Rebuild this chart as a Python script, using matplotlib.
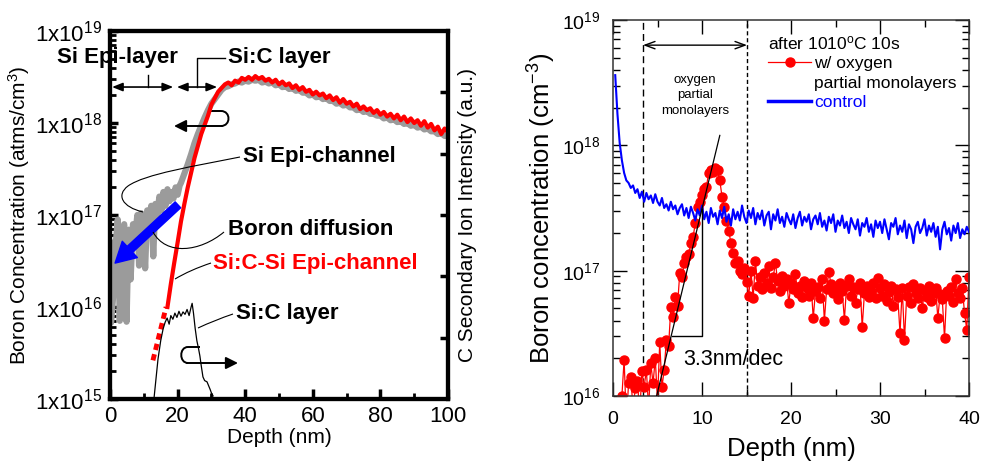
import numpy as np
import matplotlib.pyplot as plt
from matplotlib.path import Path
from matplotlib.patches import PathPatch
from matplotlib.lines import Line2D
from matplotlib.ticker import MultipleLocator, LogLocator, NullFormatter

plt.rcParams['font.family'] = ['Liberation Sans', 'DejaVu Sans']
plt.rcParams['mathtext.fontset'] = 'custom'
plt.rcParams['mathtext.rm'] = 'Liberation Sans'
plt.rcParams['mathtext.it'] = 'Liberation Sans:italic'

# ---------------- left panel data (log10 of concentration) ----------------
# Si Epi-channel (gray, thick) : noisy low part
gray_depth_low = [0.0, 0.3, 0.9, 1.5, 2.3, 2.9, 3.5, 4.2, 4.9, 5.5, 6.1, 6.8,
                  7.5, 8.1, 8.6, 9.2, 9.8, 10.4, 11.0, 11.6, 12.2, 12.8, 13.4,
                  14.0, 14.6, 15.2, 15.8, 16.4, 17.0, 17.6, 18.2, 18.8, 19.4,
                  20.0, 20.6]
gray_log_low = [16.70, 15.83, 16.10, 16.60, 16.95, 15.85, 16.80, 16.90, 15.84,
                16.84, 16.30, 16.90, 16.80, 17.00, 16.45, 17.02, 16.85, 16.42,
                17.05, 16.95, 17.10, 16.55, 17.12, 17.00, 17.20, 17.05, 17.25,
                17.10, 17.28, 17.15, 17.25, 17.18, 17.30, 17.22, 17.32]
# gray from 21 nm to 100 nm, 1 nm steps
gray_log_high = [17.35, 17.45, 17.55, 17.66, 17.78, 17.88, 17.97, 18.06, 18.14, 18.21,
                 18.26, 18.31, 18.36, 18.39, 18.40, 18.42, 18.43, 18.45, 18.44, 18.46,
                 18.45, 18.47, 18.46, 18.47, 18.44, 18.45, 18.43, 18.44, 18.41, 18.42,
                 18.39, 18.40, 18.37, 18.38, 18.35, 18.36, 18.33, 18.33, 18.30, 18.31,
                 18.28, 18.29, 18.26, 18.27, 18.24, 18.24, 18.21, 18.22, 18.19, 18.20,
                 18.17, 18.17, 18.14, 18.15, 18.12, 18.13, 18.10, 18.10, 18.08, 18.08,
                 18.05, 18.06, 18.03, 18.04, 18.01, 18.02, 17.99, 18.00, 17.97, 17.98,
                 17.95, 17.96, 17.93, 17.94, 17.91, 17.91, 17.88, 17.89, 17.86, 17.86]

# Si:C-Si Epi-channel (red), 17 nm to 100 nm, 1 nm steps
red_log = [16.00, 16.25, 16.48, 16.70, 16.93, 17.12, 17.30, 17.46, 17.62, 17.75,
           17.88, 17.98, 18.08, 18.20, 18.27, 18.34, 18.38, 18.42, 18.44, 18.41,
           18.46, 18.44, 18.49, 18.47, 18.50, 18.47, 18.51, 18.48, 18.50, 18.46,
           18.48, 18.44, 18.47, 18.42, 18.45, 18.41, 18.43, 18.38, 18.41, 18.36,
           18.39, 18.34, 18.36, 18.31, 18.34, 18.30, 18.32, 18.27, 18.30, 18.25,
           18.28, 18.22, 18.26, 18.21, 18.23, 18.18, 18.21, 18.15, 18.18, 18.14,
           18.16, 18.11, 18.14, 18.09, 18.12, 18.07, 18.10, 18.05, 18.09, 18.03,
           18.07, 18.01, 18.05, 18.00, 18.03, 17.97, 18.02, 17.95, 17.99, 17.92,
           17.96, 17.88, 17.94, 17.90]
# extrapolated (dotted) part of red curve
red_dot_depth = [12.7, 16.6]
red_dot_log = [15.42, 16.0]

# Carbon secondary ion intensity (right axis, a.u.)
c_depth = [13.0, 14.2, 15.0, 15.7, 16.3, 16.9, 17.5, 18.0, 18.6, 19.2, 19.8,
           20.4, 21.0, 21.6, 22.2, 22.8, 23.4, 24.0, 24.3, 24.7, 25.2, 25.7,
           26.2, 26.6, 27.0, 27.5, 28.0, 28.7, 29.3, 29.6, 30.0, 30.5]
c_int = [0.0, 0.65, 0.95, 1.14, 1.25, 1.32, 1.22, 1.36, 1.30, 1.40, 1.33,
         1.43, 1.35, 1.42, 1.38, 1.46, 1.36, 1.50, 1.56, 1.40, 1.15, 0.95,
         0.82, 0.70, 0.54, 0.36, 0.30, 0.28, 0.20, 0.16, 0.10, 0.05]

# ---------------- right panel data (log10 of concentration) ----------------
# control (blue), 0.25 nm to 40 nm, 0.25 nm steps
blue_log = [18.56, 18.25, 18.02, 17.88, 17.78, 17.72, 17.70, 17.66,
            17.68, 17.62, 17.65, 17.58, 17.63, 17.55, 17.62, 17.57,
            17.60, 17.54, 17.61, 17.55, 17.52, 17.58, 17.50, 17.53,
            17.48, 17.55, 17.49, 17.52, 17.45, 17.50, 17.53, 17.44,
            17.50, 17.42, 17.51, 17.46, 17.40, 17.49, 17.44, 17.52,
            17.41, 17.47, 17.38, 17.50, 17.43, 17.46, 17.37, 17.48,
            17.42, 17.51, 17.39, 17.45, 17.36, 17.49, 17.41, 17.47,
            17.40, 17.52, 17.43, 17.38, 17.48, 17.42, 17.50, 17.37,
            17.46, 17.41, 17.48, 17.36, 17.44, 17.47, 17.33, 17.45,
            17.40, 17.49, 17.38, 17.43, 17.35, 17.46, 17.41, 17.37,
            17.45, 17.34, 17.42, 17.47, 17.36, 17.43, 17.39, 17.45,
            17.33, 17.41, 17.44, 17.37, 17.46, 17.35, 17.40, 17.32,
            17.43, 17.38, 17.45, 17.31, 17.40, 17.36, 17.44, 17.34,
            17.39, 17.30, 17.42, 17.37, 17.33, 17.41, 17.28, 17.38,
            17.35, 17.42, 17.31, 17.37, 17.27, 17.40, 17.34, 17.39,
            17.30, 17.41, 17.33, 17.25, 17.38, 17.35, 17.42, 17.29,
            17.36, 17.31, 17.40, 17.26, 17.37, 17.33, 17.22, 17.35,
            17.39, 17.30, 17.34, 17.41, 17.28, 17.36, 17.31, 17.38,
            17.27, 17.35, 17.17, 17.33, 17.39, 17.29, 17.34, 17.24,
            17.36, 17.30, 17.38, 17.26, 17.33, 17.29, 17.35, 17.31]

# w/ oxygen partial monolayers (red dots), 1 nm to 40 nm, 0.25 nm steps
ox_log = [16.00, 16.29, 15.80, 16.10, 16.15, 15.90, 16.06, 16.12,
          15.85, 16.20, 16.07, 16.21, 15.90, 16.26, 16.10, 16.30,
          15.95, 16.43, 16.07, 16.21, 16.45, 16.40, 16.71, 16.63,
          16.79, 16.72, 16.98, 16.95, 17.06, 17.11, 17.13, 17.22,
          17.27, 17.38, 17.51, 17.55, 17.60, 17.65, 17.67, 17.78,
          17.80, 17.79, 17.82, 17.80, 17.72, 17.59, 17.51, 17.40,
          17.32, 17.22, 17.14, 17.06, 17.08, 17.00, 16.97, 17.02,
          16.91, 16.80, 17.00, 16.78, 17.08, 16.88, 16.95, 16.85,
          16.98, 16.90, 17.04, 16.86, 16.95, 17.06, 16.92, 16.84,
          16.96, 16.88, 16.93, 16.74, 16.90, 16.85, 16.97, 16.82,
          16.88, 16.79, 16.92, 16.86, 16.80, 16.90, 16.62, 16.84,
          16.87, 16.78, 16.93, 16.60, 16.85, 16.99, 16.89, 16.82,
          16.86, 16.77, 16.90, 16.84, 16.61, 16.88, 16.93, 16.80,
          16.87, 16.74, 16.85, 16.90, 16.55, 16.82, 16.88, 16.79,
          16.84, 16.90, 16.78, 16.94, 16.86, 16.80, 16.89, 16.76,
          16.83, 16.88, 16.72, 16.85, 16.79, 16.50, 16.86, 16.45,
          16.80, 16.87, 16.74, 16.89, 16.82, 16.78, 16.86, 16.70,
          16.84, 16.79, 16.88, 16.76, 16.82, 16.86, 16.62, 16.81,
          16.77, 16.46, 16.84, 16.80, 16.87, 16.75, 16.93, 16.82,
          16.78, 16.86, 16.66, 16.53, 16.95]

# 3.3 nm/dec guide line and triangle
fit_depth = [4.9, 12.0]
fit_conc = [1.0e16, 1.2e18]
tri_depth = [6.6, 10.0, 10.0]
tri_conc = [3.0e16, 3.0e16, 3.1e17]
# oxygen partial monolayer region
ox_region = [3.37, 15.06]

# ---------------- figure ----------------
fig = plt.figure(figsize=(9.82, 4.63), dpi=100)
W, H = 982, 463
ax1 = fig.add_axes([110 / W, 1 - 399 / H, 338 / W, 368 / H])
ax2 = fig.add_axes([613 / W, 1 - 396 / H, 356 / W, 376 / H])

# ---- left panel ----
gray_depth = gray_depth_low + list(range(21, 101))
gray_log = gray_log_low + gray_log_high
red_depth = list(range(17, 101))

ax1.set_yscale('log')
ax1.set_xlim(0, 100)
ax1.set_ylim(1e15, 1e19)
ax1.plot(gray_depth, 10 ** np.array(gray_log), color='#9b9b9b', lw=4.5, zorder=2)
ax1.plot(red_depth, 10 ** np.array(red_log), color='red', lw=3.0, zorder=3)
ax1.plot(red_dot_depth, 10 ** np.array(red_dot_log), color='red', lw=3.5,
         dashes=(1.3, 0.9), zorder=3)

ax1r = ax1.twinx()
ax1r.set_ylim(0, 6)
ax1r.plot(c_depth, c_int, color='black', lw=0.9)
ax1r.set_yticks([1, 2, 3, 4, 5])
ax1r.set_yticklabels([])
ax1r.tick_params(axis='y', direction='in', length=6, width=2.5)
ax1r.set_ylabel('C Secondary Ion Intensity (a.u.)', fontsize=15, labelpad=4)

ax1.set_yticks([1e15, 1e16, 1e17, 1e18, 1e19])
ax1.set_yticklabels([r'$\mathregular{1x10^{%d}}$' % e for e in range(15, 20)], fontsize=16)
ax1.yaxis.set_minor_locator(LogLocator(base=10, subs=np.arange(2, 10)))
ax1.yaxis.set_minor_formatter(NullFormatter())
ax1.set_xticks([0, 20, 40, 60, 80, 100])
ax1.set_xticklabels(['0', '20', '40', '60', '80', '100'], fontsize=16)
ax1.xaxis.set_minor_locator(MultipleLocator(10))
ax1.tick_params(which='major', direction='in', length=6, width=2.5, pad=6)
ax1.tick_params(axis='x', which='major', length=7, pad=5)
ax1.tick_params(which='minor', direction='in', length=4, width=2)
ax1.set_xlabel('Depth (nm)', fontsize=15, labelpad=1)
ax1.set_ylabel('Boron Concentration (atms/cm$^3$)', fontsize=15, labelpad=2)
for a in (ax1, ax1r):
    for s in a.spines.values():
        s.set_linewidth(3)


def lp(px, py):
    # reference pixel position -> left axes fraction
    return ((px - 110) / 338, (399 - py) / 368)


bold = dict(fontsize=16, fontweight='bold', va='center')
ax1.text(2.1, 5.1e18, 'Si Epi-layer', ha='center', zorder=6, **bold)
ax1.text(34.9, 5.1e18, 'Si:C layer', ha='left', **bold)
ax1.text(39.3, 4.3e17, 'Si Epi-channel', ha='left', **bold)
ax1.text(34.9, 6.9e16, 'Boron diffusion', ha='left', **bold)
ax1.text(30.5, 3.0e16, 'Si:C-Si Epi-channel', ha='left', color='red', **bold)
ax1.text(37.3, 8.5e15, 'Si:C layer', ha='left', **bold)

# layer range arrows
arr = dict(arrowstyle='<|-|>,head_length=0.45,head_width=0.18', lw=1.2,
           color='black', shrinkA=0, shrinkB=0, mutation_scale=14)
ax1.annotate('', xy=(0.6, 2.46e18), xytext=(18.7, 2.46e18), arrowprops=arr)
ax1.annotate('', xy=(19.8, 2.46e18), xytext=(31.7, 2.46e18), arrowprops=arr)
ax1.plot([11.3, 11.3], [2.46e18, 3.3e18], color='black', lw=1)
ax1.plot([25.7, 25.7, 34.0], [2.46e18, 5.1e18, 5.1e18], color='black', lw=1)

# curled arrows (which axis each curve belongs to)
head = dict(arrowstyle='-|>,head_length=0.6,head_width=0.3', lw=1.4,
            color='black', shrinkA=0, shrinkB=0, mutation_scale=12)
loop1 = Path([lp(207, 111), lp(221, 111), lp(231, 111), lp(231, 126), lp(221, 126)],
             [Path.MOVETO, Path.LINETO, Path.CURVE4, Path.CURVE4, Path.CURVE4])
ax1.add_patch(PathPatch(loop1, fill=False, lw=1.4, transform=ax1.transAxes))
ax1.annotate('', xy=lp(174, 126), xytext=lp(222, 126), xycoords='axes fraction',
             textcoords='axes fraction', arrowprops=head)
loop2 = Path([lp(200, 347), lp(188, 347), lp(179, 347), lp(179, 363), lp(188, 363)],
             [Path.MOVETO, Path.LINETO, Path.CURVE4, Path.CURVE4, Path.CURVE4])
ax1.add_patch(PathPatch(loop2, fill=False, lw=1.4, transform=ax1.transAxes))
ax1.annotate('', xy=lp(238, 363), xytext=lp(187, 363), xycoords='axes fraction',
             textcoords='axes fraction', arrowprops=head)

# leader lines
lead1 = Path([lp(240, 157), lp(195, 166), lp(145, 174), lp(128, 186),
              lp(116, 195), lp(122, 207), lp(143, 212)],
             [Path.MOVETO, Path.CURVE4, Path.CURVE4, Path.CURVE4,
              Path.CURVE4, Path.CURVE4, Path.CURVE4])
lead2 = Path([lp(224, 232), lp(200, 252), lp(166, 256), lp(153, 232)],
             [Path.MOVETO, Path.CURVE4, Path.CURVE4, Path.CURVE4])
lead3 = Path([lp(211, 263), lp(190, 270), lp(175, 279)],
             [Path.MOVETO, Path.CURVE3, Path.CURVE3])
lead4 = Path([lp(233, 314), lp(215, 320), lp(198, 328)],
             [Path.MOVETO, Path.CURVE3, Path.CURVE3])
for p in (lead1, lead2, lead3, lead4):
    ax1.add_patch(PathPatch(p, fill=False, lw=0.8, color='black', transform=ax1.transAxes,
                            zorder=5))

# boron diffusion arrow
ax1.annotate('', xy=(1.5, 3.0e16), xytext=(20.1, 1.29e17),
             arrowprops=dict(arrowstyle='simple,head_width=1.6,head_length=1.45,tail_width=0.58',
                             color='#0000ff', shrinkA=0, shrinkB=0, mutation_scale=10),
             zorder=4)

# ---- right panel ----
blue_depth = np.linspace(0.25, 40.0, len(blue_log))
ox_depth = np.linspace(1.0, 40.0, len(ox_log))

ax2.set_yscale('log')
ax2.set_xlim(0, 40)
ax2.set_ylim(1e16, 1e19)
ax2.plot(ox_depth, 10 ** np.array(ox_log), color='red', lw=0.9, marker='o', ms=6.5,
         mec='red', mfc='red', zorder=2)
ax2.plot(blue_depth, 10 ** np.array(blue_log), color='#0000ff', lw=1.5, zorder=3)
ax2.plot(fit_depth, fit_conc, color='black', lw=0.9, zorder=4)
ax2.plot(tri_depth, tri_conc, color='black', lw=1.0, zorder=4)
ax2.axvline(ox_region[0], color='black', lw=1.0, dashes=(5, 3), zorder=1)
ax2.axvline(ox_region[1], color='black', lw=1.0, dashes=(3, 2), zorder=1)
ax2.annotate('', xy=(ox_region[0], 6.3e18), xytext=(ox_region[1], 6.3e18),
             arrowprops=dict(arrowstyle='<->,head_length=0.6,head_width=0.22', lw=1.0,
                             color='black', shrinkA=0, shrinkB=0, mutation_scale=12))
ax2.text(9.2, 2.5e18, 'oxygen\npartial\nmonolayers', fontsize=9.5, ha='center',
         va='center', linespacing=1.4)
ax2.text(7.9, 10 ** 16.29, '3.3nm/dec', fontsize=15.5, ha='left', va='center')

ax2.set_xticks([0, 10, 20, 30, 40])
ax2.set_xticklabels(['0', '10', '20', '30', '40'], fontsize=14)
ax2.xaxis.set_minor_locator(MultipleLocator(5))
ax2.set_yticks([1e16, 1e17, 1e18, 1e19])
ax2.set_yticklabels([r'$\mathregular{10^{%d}}$' % e for e in range(16, 20)], fontsize=14)
ax2.yaxis.set_minor_locator(LogLocator(base=10, subs=np.arange(2, 10)))
ax2.yaxis.set_minor_formatter(NullFormatter())
ax2.tick_params(which='both', direction='in', top=True, right=True, width=1.0)
ax2.tick_params(which='major', length=10)
ax2.tick_params(which='minor', length=5)
ax2.tick_params(axis='x', which='major', pad=11)
ax2.tick_params(axis='y', which='major', pad=9)
ax2.set_xlabel('Depth (nm)', fontsize=18.5, labelpad=6)
ax2.set_ylabel('Boron concentration (cm$^{-3}$)', fontsize=18.5, labelpad=3)
for s in ax2.spines.values():
    s.set_linewidth(1.1)
    s.set_color('#333333')

handles = [Line2D([], [], color='red', lw=0.9, marker='o', ms=6.5),
           Line2D([], [], color='none'),
           Line2D([], [], color='#0000ff', lw=2.5)]
leg = ax2.legend(handles, ['w/ oxygen', 'partial monolayers', 'control'],
                 title=r'after 1010$\mathregular{^o}$C 10s', loc='upper left',
                 bbox_to_anchor=((768 - 613) / 356, (396 - 34) / 376), frameon=False,
                 fontsize=12.5, title_fontsize=12.5, handlelength=2.5,
                 handletextpad=0.15, labelspacing=0.25, borderpad=0, borderaxespad=0)
leg._legend_box.align = 'left'
leg.get_texts()[2].set_color('#0000ff')

fig.savefig('out.png', dpi=100)
